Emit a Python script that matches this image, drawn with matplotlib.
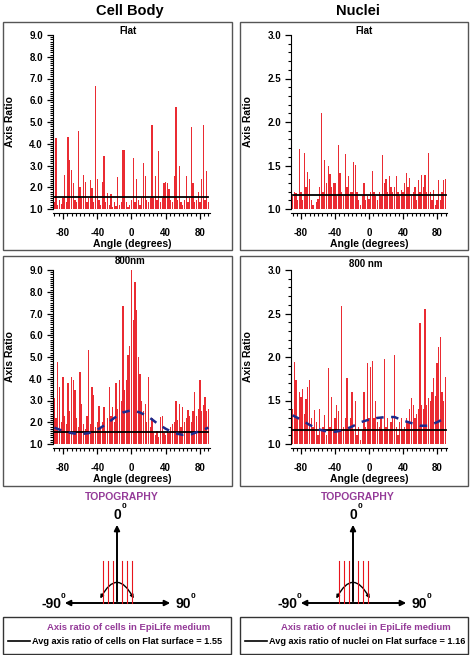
import numpy as np
import matplotlib.pyplot as plt
from matplotlib.patches import Rectangle, FancyArrowPatch
from matplotlib.ticker import MultipleLocator

plt.rcParams['font.family'] = ['Liberation Sans', 'DejaVu Sans']
plt.rcParams['font.weight'] = 'bold'
plt.rcParams['axes.unicode_minus'] = False

# bar positions, 2 degree bins
angles = np.arange(-90, 91, 2)

cell_flat = [1.3, 4.25, 1.2, 1.4, 1.25, 1.5, 2.55, 1.3, 4.3, 3.25,
             2.8, 2.2, 1.4, 1.3, 4.6, 2.0, 1.5, 2.55, 2.25, 1.3,
             1.5, 2.35, 1.95, 1.3, 6.65, 2.4, 1.4, 1.2, 2.25, 3.45,
             1.3, 1.75, 1.2, 1.7, 1.1, 1.3, 1.15, 2.45, 1.2, 1.3,
             3.7, 3.7, 1.3, 1.1, 1.2, 1.4, 3.35, 1.3, 2.4, 1.4,
             1.2, 1.5, 3.1, 2.5, 1.4, 1.3, 1.5, 4.85, 1.5, 2.5,
             1.4, 3.65, 1.3, 1.5, 2.2, 2.25, 2.2, 1.9, 1.4, 1.3,
             2.5, 5.7, 1.4, 3.0, 1.3, 1.2, 1.4, 2.5, 1.3, 1.5,
             4.75, 2.2, 1.3, 1.4, 1.8, 1.3, 2.4, 4.85, 1.4, 2.75,
             1.3]

nuc_flat = [1.15, 1.2, 1.18, 1.1, 1.69, 1.2, 1.1, 1.64, 1.25, 1.43,
            1.34, 1.1, 1.05, 1.0, 1.08, 1.12, 1.25, 2.1, 1.2, 1.56,
            1.3, 1.49, 1.4, 1.25, 1.3, 1.3, 1.15, 1.74, 1.41, 1.2,
            1.15, 1.63, 1.25, 1.38, 1.2, 1.2, 1.54, 1.51, 1.2, 1.1,
            1.05, 1.15, 1.3, 1.1, 1.15, 1.12, 1.2, 1.44, 1.2, 1.15,
            1.1, 1.2, 1.15, 1.62, 1.3, 1.35, 1.2, 1.38, 1.25, 1.2,
            1.25, 1.38, 1.2, 1.15, 1.22, 1.2, 1.3, 1.41, 1.25, 1.36,
            1.15, 1.2, 1.25, 1.1, 1.33, 1.2, 1.39, 1.25, 1.39, 1.2,
            1.64, 1.2, 1.1, 1.22, 1.05, 1.1, 1.33, 1.1, 1.2, 1.33,
            1.35]

cell_800 = [3.1, 2.2, 4.75, 3.6, 2.0, 4.1, 2.3, 1.9, 3.8, 2.5,
            4.1, 3.95, 3.5, 2.2, 1.8, 4.3, 2.85, 1.9, 1.7, 2.3,
            5.3, 1.9, 3.6, 3.25, 1.8, 2.0, 2.75, 1.7, 2.0, 2.7,
            1.6, 2.2, 3.6, 2.3, 2.7, 2.0, 3.8, 2.6, 3.95, 3.0,
            7.35, 3.5, 3.95, 5.1, 5.5, 9.0, 6.7, 8.45, 7.15, 5.0,
            4.2, 3.0, 2.5, 2.85, 2.0, 4.1, 1.8, 2.2, 1.5, 1.4,
            1.6, 1.3, 2.25, 2.3, 1.5, 1.4, 1.6, 1.5, 1.8, 1.9,
            2.0, 3.0, 2.1, 2.85, 1.8, 2.7, 2.0, 2.2, 2.55, 2.3,
            2.0, 2.5, 3.4, 2.3, 2.6, 3.95, 2.5, 2.8, 3.15, 2.5,
            2.6]

nuc_800 = [1.4, 1.94, 1.74, 1.3, 1.6, 1.54, 1.63, 1.35, 1.52, 1.65,
           1.73, 1.3, 1.2, 1.39, 1.25, 1.1, 1.4, 1.15, 1.2, 1.33,
           1.1, 1.87, 1.2, 1.54, 1.15, 1.3, 1.45, 1.38, 1.15, 2.59,
           1.2, 1.3, 1.76, 1.2, 1.3, 1.6, 1.15, 1.5, 1.1, 1.2,
           1.05, 1.15, 1.6, 1.2, 1.93, 1.3, 1.89, 1.95, 1.3, 1.5,
           1.25, 1.2, 1.3, 1.15, 1.98, 1.2, 1.3, 1.15, 1.25, 1.3,
           2.02, 1.2, 1.1, 1.25, 1.3, 1.15, 1.2, 1.3, 1.25, 1.4,
           1.53, 1.45, 1.3, 1.35, 1.4, 2.39, 1.45, 1.4, 2.55, 1.45,
           1.53, 1.5, 1.6, 1.76, 1.55, 1.93, 2.12, 2.23, 1.6, 1.5,
           1.77]

# dashed fit curves on the 800 nm panels
fit_angles = np.arange(-90, 91, 10)
cell_fit = [1.75, 1.6, 1.5, 1.45, 1.5, 1.65, 1.9, 2.2, 2.45, 2.55,
            2.45, 2.25, 1.95, 1.7, 1.5, 1.42, 1.45, 1.6, 1.75]
nuc_fit = [1.33, 1.28, 1.22, 1.17, 1.145, 1.14, 1.16, 1.2, 1.25, 1.28,
           1.3, 1.31, 1.31, 1.27, 1.24, 1.21, 1.21, 1.25, 1.3]

cell_avg = 1.55
nuc_avg = 1.16

RED = '#e8141c'
PURPLE = '#943a98'
W, H = 473, 655

fig = plt.figure(figsize=(W / 100, H / 100), dpi=100)

# overlay in pixel coordinates for frames, labels and the schematics
ov = fig.add_axes([0, 0, 1, 1], zorder=-1)
ov.set_xlim(0, W)
ov.set_ylim(H, 0)
ov.axis('off')


def px_axes(x0, y0, x1, y1):
    return fig.add_axes([x0 / W, 1 - y1 / H, (x1 - x0) / W, (y1 - y0) / H])


def panel(ax, vals, ymax, major, avg, fit=None):
    ax.bar(angles, vals, width=1.5, color=RED, linewidth=0, alpha=0.9)
    ax.plot([-90, 90], [avg, avg], color='k', lw=1.3)
    if fit is not None:
        ax.plot(fit_angles, fit, color='#1c2a8c', lw=1.8, ls=(0, (3, 3)))
    ax.set_xlim(-92, 92)
    ax.set_ylim(1.0, ymax)
    ax.set_facecolor('none')
    for s in ['top', 'right']:
        ax.spines[s].set_visible(False)
    ax.spines['bottom'].set_position(('outward', 3))
    ax.xaxis.set_minor_locator(MultipleLocator(5))
    ax.set_xticks([-80, -40, 0, 40, 80])
    ax.yaxis.set_major_locator(MultipleLocator(major))
    ax.yaxis.set_minor_locator(MultipleLocator(0.1))
    ax.yaxis.set_major_formatter('{x:.1f}')
    ax.tick_params(which='major', length=4, width=0.9, labelsize=7, pad=3)
    ax.tick_params(axis='x', which='major', pad=7)
    ax.tick_params(which='minor', length=2.5, width=0.8)


panel(px_axes(52.7, 35, 210.2, 209), cell_flat, 9.0, 1.0, cell_avg)
panel(px_axes(52.7, 270, 210.2, 444), cell_800, 9.0, 1.0, cell_avg, cell_fit)
panel(px_axes(290.8, 35, 447.2, 209), nuc_flat, 3.0, 0.5, nuc_avg)
panel(px_axes(290.8, 270, 447.2, 444), nuc_800, 3.0, 0.5, nuc_avg, nuc_fit)

# panel frames
for x0, x1 in [(3, 232), (240, 468)]:
    for y0, y1 in [(22, 250), (256, 486)]:
        ov.add_patch(Rectangle((x0, y0), x1 - x0, y1 - y0, fill=False,
                               ec='#555555', lw=1))

ov.text(130, 11, 'Cell Body', ha='center', va='center', fontsize=10.5)
ov.text(358, 11, 'Nuclei', ha='center', va='center', fontsize=10.5)
ov.text(128, 31, 'Flat', ha='center', va='center', fontsize=7)
ov.text(364, 31, 'Flat', ha='center', va='center', fontsize=7)
ov.text(130, 261, '800nm', ha='center', va='center', fontsize=7)
ov.text(366, 264, '800 nm', ha='center', va='center', fontsize=7)
for x in [10, 248]:
    for y in [122, 357]:
        ov.text(x, y, 'Axis Ratio', rotation=90, ha='center', va='center',
                fontsize=7.5)
for x in [132, 369]:
    for y in [244, 479]:
        ov.text(x, y, 'Angle (degrees)', ha='center', va='center',
                fontsize=7.5)


def schematic(cx, box_x0, box_x1, what, avg):
    base = 603
    ov.text(cx + 5, 497, 'TOPOGRAPHY', color=PURPLE, ha='center',
            va='center', fontsize=7.5)
    for dx in [-14, -9, -4, 5, 10, 15]:
        ov.plot([cx + dx, cx + dx], [561, base], color=RED, lw=0.8)
    ov.add_patch(FancyArrowPatch((cx - 55, base), (cx + 56, base),
                                 arrowstyle='<|-|>', mutation_scale=8,
                                 lw=1.4, color='k'))
    ov.add_patch(FancyArrowPatch((cx, base + 1), (cx, 522),
                                 arrowstyle='-|>', mutation_scale=8,
                                 lw=1.4, color='k'))
    ov.add_patch(FancyArrowPatch((cx - 18, 601), (cx + 18, 601),
                                 connectionstyle='arc3,rad=-1.0',
                                 arrowstyle='<|-|>', mutation_scale=5,
                                 lw=1.0, color='k'))
    ov.text(cx, 515, '0', ha='center', va='center', fontsize=10)
    ov.text(cx + 7, 507, '0', ha='center', va='center', fontsize=6)
    ov.text(cx - 56, 604, '-90', ha='right', va='center', fontsize=10)
    ov.text(cx - 54, 597, '0', ha='center', va='center', fontsize=6)
    ov.text(cx + 58, 604, '90', ha='left', va='center', fontsize=10)
    ov.text(cx + 76, 597, '0', ha='center', va='center', fontsize=6)
    ov.add_patch(Rectangle((box_x0, 617), box_x1 - box_x0, 37, fill=False,
                           ec='#333333', lw=1))
    ov.text((box_x0 + box_x1) / 2 + 12, 627,
            'Axis ratio of %s in EpiLife medium' % what, color=PURPLE,
            ha='center', va='center', fontsize=6.8)
    ov.plot([box_x0 + 5, box_x0 + 27], [641, 641], color='k', lw=1.2)
    ov.text(box_x0 + 29, 641,
            'Avg axis ratio of %s on Flat surface = %.2f' % (what, avg),
            ha='left', va='center', fontsize=6.6)


schematic(117, 3, 231, 'cells', cell_avg)
schematic(353, 240, 468, 'nuclei', nuc_avg)

fig.savefig('out.png', dpi=100)
